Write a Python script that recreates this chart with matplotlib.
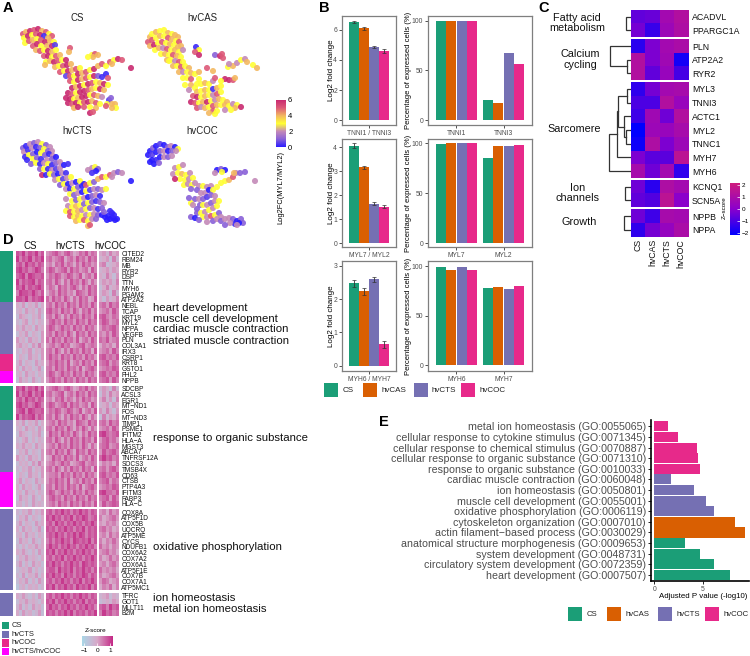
import numpy as np
import matplotlib
matplotlib.use("Agg")
import matplotlib.pyplot as plt
from matplotlib.colors import LinearSegmentedColormap, ListedColormap, Normalize
from matplotlib.cm import ScalarMappable
from matplotlib.patches import Rectangle

plt.rcParams["font.family"] = ["Liberation Sans", "DejaVu Sans"]

W, H = 750, 656
GROUPS = ["CS", "hvCAS", "hvCTS", "hvCOC"]
COLORS = ["#1b9e77", "#d95f02", "#7570b3", "#e7298a"]
MAGENTA = "#ff00ff"

# panel A, (umap1, umap2, log2fc)
CS_CELLS = [(23,34,5),(26,32,4),(30,31,6),(34,30,5),(38,29,6),(42,31,4),(46,32,5),(49,34,3),(52,36,5),(24,38,3),(28,36,6),(32,35,3),(36,34,5),(40,35,6),(44,36,0.3),(48,38,4),(25,43,3),(29,41,5),(33,40,4),(37,39,3),(41,40,5),(45,42,6),(50,41,4),(54,42,3),(33,46,5),(37,44,6),(41,46,3),(47,46,4),(52,46,6),(55,45,0.5),(70,48,5),(69,52,4),
    (36,50,4),(40,51,5),(44,50,3),(48,51,6),(52,52,4),(56,50,3),(44,56,5),(48,56,6),(52,57,3),(56,56,5),(60,55,4),(46,62,3),(50,61,4),(54,62,6),(58,61,5),(62,60,3),(66,60,6),(55,67,4),(59,66,3),(63,66,5),(67,65,6),(71,64,4),(45,65,4),(60,72,5),(64,71,3),(68,71,6),(72,70,4),(76,69,5),(80,68,3),(66,76,0.6),(70,76,5),(74,76,3),(78,74,6),(82,73,4),(86,72,5),(90,70,3),(94,69,6),(98,66,4),(102,64,5),(106,66,3),(110,62,5),(114,60,3),(118,59,6),(122,60,5),(112,64,4),(131,68,6),(92,55,3),(95,54,5),(98,55,4),(93,57,4),(88,57,3),
    (70,81,5),(74,82,3),(78,80,6),(82,79,4),(86,78,5),(90,77,3),(94,76,6),(98,76,1),(102,77,0.3),(106,74,0.2),(108,78,5),(72,88,6),(76,87,4),(80,86,6),(84,85,3),(88,84,6),(92,83,5),(96,82,3),(100,83,4),(104,84,6),(108,85,3),(68,93,6),(72,94,5),(76,93,3),(80,92,6),(84,91,6),(88,90,5),(92,89,4),(96,88,3),(100,89,6),(104,90,4),(66,98,6),(70,99,6),(74,99,3),(78,98,4),(82,97,6),(86,96,6),(90,95,3),(94,95,5),(98,96,4),(102,97,2),(68,103,6),(72,104,5),(76,103,6),(80,103,3),(84,102,5),(88,102,6),(92,101,4),(96,103,5),(100,104,3),(74,108,4),(78,107,6),(84,107,5),(90,107,3),(96,108,4),(90,113,6),(93,112,5),(109,100,0.5),(111,98,1),(107,104,3),(112,104,4),(115,104,4),(116,108,3),(112,108,4),(106,106,5)]
CAS_CELLS = [(23,42,5),(25,37,4),(27,34,3),(31,32,4),(35,31,3),(39,30,3),(43,33,4),(47,34,3),(50,35,4),(53,37,4),(27,40,5),(31,38,3),(35,36,4),(39,36,3),(43,38,5),(47,39,4),(51,41,3),(54,42,5),(25,46,4),(29,45,6),(33,43,3),(37,42,5),(41,43,3),(45,44,4),(49,45,3),(53,47,4),(56,46,4),(30,50,3),(34,48,4),(38,48,2),(42,49,5),(46,50,3),(50,50,4),(54,52,3),(58,50,2),(36,54,3),(40,54,4),(44,55,3),(48,55,5),(52,56,4),(56,57,3),(42,60,4),(46,60,3),(50,61,2),(54,62,5),(58,62,3),(48,66,4),(52,66,3),(56,67,5),(60,66,3),(64,68,4),(44,61,3),(54,72,4),(58,72,2),(62,72,3),(66,73,4),(58,78,3),(62,78,3),(66,79,5),(70,74,3),(74,72,4),(74,79,3),(72,84,3),(66,85,4),(70,88,3),(60,85,3),(64,90,2),
    (76,84,3),(80,83,4),(84,84,3),(88,81,2),(90,78,5),(72,92,4),(76,91,3),(80,90,4),(84,90,3),(88,89,0.3),(92,88,4),(96,86,3),(68,96,5),(72,97,6),(76,97,3),(80,96,4),(84,95,3),(88,95,2),(92,94,5),(96,92,3),(66,102,6),(70,103,5),(74,103,3),(78,102,4),(82,102,6),(86,101,3),(90,100,2),(94,99,4),(98,100,3),(102,102,4),(72,108,5),(76,107,2),(80,108,4),(84,107,3),(88,106,5),(92,105,4),(96,105,3),(100,105,4),(104,106,3),(108,104,2),(112,105,3),(116,107,6),(110,108,4),(106,110,3),(88,111,5),(92,111,3),(100,110,2),(84,113,4),(90,114,3),
    (71,47,0.2),(74,50,3),(70,52,5),(74,55,6),(90,55,1),(95,56,6),(97,54,5),(98,58,5),(103,67,3),(108,66,4),(112,63,2),(116,60,3),(120,59,2),(122,62,4),(104,64,2),(128,65,3),(132,68,4),(100,79,6),(104,80,6),(108,80,5),(110,78,4),(96,81,3),(88,71,4),(82,68,5)]
CTS_CELLS = [(23,35,1),(26,33,0.2),(30,31,2),(34,30,1),(38,29,2),(42,31,3),(46,32,1),(50,34,2),(24,39,2),(28,37,0.3),(32,35,2),(36,34,0.2),(40,35,1),(44,36,3),(48,38,1),(52,38,2),(25,44,0.3),(29,42,3),(33,41,1),(37,39,0),(41,40,3),(45,42,1),(49,41,0.2),(53,43,2),(27,47,0.2),(33,46,3),(37,45,1),(41,46,0.3),(47,47,2),(52,46,1),(56,44,0),(31,51,1),(36,50,3),(40,51,0.2),(44,50,2),(48,51,3),(52,52,0.2),(56,50,1),(60,49,2),(40,56,1),(44,56,3),(48,56,0.2),(52,57,2),(56,56,0.5),(60,55,2),(64,52,0),(68,51,0.3),(42,62,6),(46,62,0.2),(50,61,3),(54,62,1),(58,61,0),(62,60,2),(66,60,0.3),(55,67,2),(59,66,3),(63,66,0.5),(67,65,2),(71,64,3),(60,72,1),(64,71,3),(68,71,0),(72,70,2),(76,69,0),(80,68,3),(84,71,0),(66,76,2),(70,76,0.2),(74,76,3),(78,74,1),(82,73,0.1),(86,72,5),(90,70,3),(94,69,1),(98,66,4),(102,64,5),(106,64,3),(110,62,5),(114,60,2),(118,59,1),(122,60,2),(112,64,2),(131,68,0),(92,55,2),(95,54,3),(98,56,1),(96,58,0),(88,57,2),(92,60,0.3),
    (70,81,3),(74,82,1),(78,80,2),(82,79,0),(86,78,3),(90,77,0.5),(94,76,2),(98,76,1),(102,77,2),(106,76,3),(66,86,2),(72,88,3),(76,87,1),(80,86,3),(84,85,2),(88,84,0),(92,83,1),(96,82,2),(100,83,0.2),(68,93,2),(72,94,3),(76,93,4),(80,92,3),(84,91,1),(88,90,3),(92,89,1),(96,88,0.3),(100,89,1),(104,90,2),(66,98,3),(70,99,5),(74,99,3),(78,98,4),(82,97,2),(86,96,3),(90,95,1),(94,95,2),(98,96,0.3),(102,95,1),(70,103,5),(74,104,3),(78,103,4),(82,103,3),(86,102,2),(90,102,3),(94,101,2),(98,102,1),(76,108,4),(80,107,3),(84,107,5),(88,108,3),(92,106,2),(96,106,1),(88,113,4),(90,112,5),
    (102,102,0),(105,104,0),(108,103,0),(110,106,0),(113,105,0),(115,107,0),(117,106,0),(112,100,0),(110,98,0.2),(107,107,0),(114,102,0.1),(104,99,1)]
COC_CELLS = [(23,42,0),(25,38,0),(28,35,1),(31,33,0),(35,31,0.5),(39,32,0),(43,34,1),(46,33,2),(50,34,0),(53,36,3),(27,42,0.5),(31,39,0),(35,38,1),(39,38,2),(43,38,0),(47,38,1),(51,38,2),(27,47,0),(31,47,0.2),(35,44,0),(39,44,2),(43,44,1),(47,43,2),(25,49,0),(29,51,0),(34,50,1),
    (50,55,2),(54,54,3),(58,52,2),(48,61,2),(53,60,3),(57,61,4),(61,62,3),(65,60,2),(55,66,3),(60,67,3),(64,66,2),(68,65,3),(50,66,6),(59,72,3),(63,71,2),(67,72,3),(70,70,2),(74,73,2),(78,73,3),(82,74,2),(86,73,2),(66,76,1),(72,77,1),(76,80,2),(80,80,2),(84,77,0),(88,77,3),(92,74,3),(96,70,3),(100,68,3),(104,67,4),(108,64,5),(111,60,2),(115,60,1),(120,59,1),(109,60,4),(92,57,0),(96,56,1),(100,57,0),(90,60,2),(97,59,3),(130,68,2),(66,90,3),(75,92,1),
    (64,85,1),(70,86,1),(74,86,2),(78,86,1),(82,84,0.5),(86,82,1),(90,83,2),(68,92,2),(72,96,1),(78,92,3),(82,92,2),(86,90,1),(90,88,2),(94,88,3),(72,100,1),(76,100,3),(80,99,2),(84,97,3),(88,95,2),(92,93,3),(66,104,1),(78,104,3),(82,104,2),(86,103,5),(90,102,3),(94,100,1),(96,104,2),(70,105,0),(74,107,1),(82,109,2),(88,108,1),(92,106,2),(96,108,1),(100,106,2),(104,105,2),(108,106,1),(112,108,0),(116,106,1),(118,110,1),(114,110,0),(110,111,0.2),(105,110,2),(112,112,2),(100,112,1)]

# panel B
FC_LABELS = ["TNNI1 / TNNI3", "MYL7 / MYL2", "MYH6 / MYH7"]
FC_VALUES = [[6.55, 6.1, 4.85, 4.6], [4.07, 3.18, 1.66, 1.52], [2.48, 2.24, 2.6, 0.64]]
FC_ERRORS = [[0.07, 0.07, 0.07, 0.12], [0.1, 0.06, 0.05, 0.06], [0.11, 0.11, 0.07, 0.11]]
PCT_GENES = [["TNNI1", "TNNI3"], ["MYL7", "MYL2"], ["MYH6", "MYH7"]]
PCT_VALUES = [[[100, 100, 100, 99.5], [20, 17.5, 67.5, 57]],
              [[99.5, 100, 100, 100], [85, 97.5, 97.5, 98]],
              [[99.5, 96, 99, 96], [78, 79, 77, 80]]]

# panel C
C_TITLES = [["Fatty acid", "metabolism"], ["Calcium", "cycling"], ["Sarcomere"], ["Ion", "channels"], ["Growth"]]
C_GENES = [["ACADVL", "PPARGC1A"], ["PLN", "ATP2A2", "RYR2"],
           ["MYL3", "TNNI3", "ACTC1", "MYL2", "TNNC1", "MYH7", "MYH6"],
           ["KCNQ1", "SCN5A"], ["NPPB", "NPPA"]]
C_VALUES = [[[-0.6, -0.5, 0.7, 1.1], [-0.3, -1.2, 0.5, 1.0]],
            [[-1.4, -0.2, 0.7, 0.9], [1.1, -0.2, 0.6, -1.7], [1.1, -0.6, 0.4, -1.0]],
            [[-1.3, -0.3, 0.7, 0.8], [-0.9, -0.9, 1.1, 0.4], [-1.1, 0.6, -0.4, 1.1], [-2.0, 0.5, 0.4, 0.8],
             [-1.8, 1.0, -0.2, 0.5], [-0.2, -0.7, -0.7, 1.4], [0.8, -0.4, 0.7, -1.3]],
            [[-0.4, -1.4, 1.0, 0.7], [-0.6, -0.8, 1.4, 0.0]],
            [[-0.4, -1.1, 0.8, 0.7], [-1.3, -0.3, 0.3, 0.9]]]
# (height, left, right), an int is a row of the block
C_TREES = [(5.3, 0, 1), (21, 0, (4, 1, 2)),
           (22, 6, (13.7, 5, (13.4, (4.3, 0, 1), (6.7, 2, (5.3, 3, 4))))),
           (6, 0, 1), (7.3, 0, 1)]

# panel D, one digit per cell from 0 (low) to 9 (high), CS / hvCTS / hvCOC
D_GENES = [["CITED2", "RBM24", "MB", "RYR2", "DSP", "TTN", "MYH6", "PGAM2", "ATP2A2", "NEBL", "TCAP", "KRT19", "MYL2", "NPPA",
            "VEGFB", "PLN", "COL3A1", "IRX3", "CSRP1", "KRT8", "GSTO1", "FHL2", "NPPB"],
           ["SDCBP", "ACSL3", "EGR1", "MT\u2212ND1", "FOS", "MT\u2212ND3", "TIMP1", "PSME1", "IFITM2", "HLA\u2212A", "MGST3", "ABCA7",
            "TNFRSF12A", "SOCS3", "TMSB4X", "CD63", "CTSB", "PTP4A3", "IFITM3", "FABP3", "HLA\u2212C"],
           ["COX8A", "ATP5F1D", "COX5B", "UQCRQ", "ATP5ME", "CYCS", "NDUFB1", "COX6A2", "COX7A2", "COX6A1", "ATP5F1E", "COX7B",
            "COX7A1", "ATP5MC1"],
           ["TFRC", "GOT1", "MLLT11", "B2M"]]
D_SIDE = [[0]*9 + [1]*9 + [2]*3 + [3]*2, [0]*6 + [1]*9 + [3]*6, [1]*14, [1]*4]
D_CELLS = [
    ["879687968 56786578645768576 453645", "968796879 67567846758675867 345263", "786978687 56476857647586756 562345",
     "897867986 68756785867567486 345354", "789698778 57687568756846758 436425", "968789687 67586475867586475 354536",
     "879687897 57648675786475867 246345", "698879768 46758675648765867 354263", "887968789 75867586475867458 425346",
     "435243524 67586758675867586 675867", "342534253 78675867586476857 567586", "254324352 67586475867586758 786576",
     "324524243 57867586758675867 687567", "435342534 68756867586758675 576786", "243524325 67586758648675867 657586",
     "534253425 75867586758467586 768567", "453425364 56756867456785676 465647", "324352435 67586475867586748 567586",
     "243253425 68675867586758675 786768", "352432534 57686758467586758 678576", "425342352 67586758675846786 567687",
     "342534243 68756867586758675 786768", "253425324 57867586758675867 678586"],
    ["879687968 56786578645768576 354263", "968796879 67567846758675867 253645", "786978687 56476857647586756 463526",
     "897867986 68756785867567486 345254", "789698778 57687568756846758 536425", "968789687 67586475867586475 263546",
     "435243524 56758675648765867 675867", "342534253 67586758647586475 567586", "254324352 58675867586475867 897678",
     "324524243 67586475867586758 578675", "435342534 56758675867586475 678567", "243524325 67586758648675867 586786",
     "534253425 45867586758467586 797867", "243425364 56756867456785676 465647", "324352435 67586475867586748 675786",
     "243253425 56675867586758675 786768", "352432534 57686758467586758 678576", "425342352 67586758675846786 567687",
     "342534243 68756867586758675 897768", "253425324 57867586758675867 678586", "342425343 56758675867586758 586787"],
    ["324352435 78687978687978687 564756", "243524324 87978687968798678 645675", "352432534 78697868797868797 546564",
     "425342352 87868797868796878 675645", "342534243 78797868797986878 564756", "253425324 68687978698787968 646575",
     "324243534 79786879786879786 756465", "435324253 87968797868797868 567564", "243534324 78687968797868797 645756",
     "352425342 87978687978698787 564675", "234352423 78869787968797868 756564", "325243524 87978697868798687 645675",
     "243524253 78687978687968797 576456", "134243423 87968797869787968 465746"],
    ["435324253 78687978687978687 345243", "243534324 87968797868796878 234354",
     "352425342 79786879786879786 786978", "425342352 87868797968786879 697867"]]
D_TERMS = ["heart development", "muscle cell development", "cardiac muscle contraction", "striated muscle contraction",
           "response to organic substance", "oxidative phosphorylation", "ion homeostasis", "metal ion homeostasis"]
D_LEGEND = ["CS", "hvCTS", "hvCOC", "hvCTS/hvCOC"]

# panel E, top to bottom
E_TERMS = ["metal ion homeostasis (GO:0055065)", "cellular response to cytokine stimulus (GO:0071345)",
           "cellular response to chemical stimulus (GO:0070887)", "cellular response to organic substance (GO:0071310)",
           "response to organic substance (GO:0010033)", "cardiac muscle contraction (GO:0060048)",
           "ion homeostasis (GO:0050801)", "muscle cell development (GO:0055001)", "oxidative phosphorylation (GO:0006119)",
           "cytoskeleton organization (GO:0007010)", "actin filament\u2212based process (GO:0030029)",
           "anatomical structure morphogenesis (GO:0009653)", "system development (GO:0048731)",
           "circulatory system development (GO:0072359)", "heart development (GO:0007507)"]
E_VALUES = [1.45, 2.48, 4.38, 4.48, 4.72, 1.69, 4.14, 5.34, 6.2, 8.34, 9.41, 3.17, 4.76, 6.17, 7.79]
E_GROUP = [3]*5 + [2]*4 + [1]*2 + [0]*4

GREY = "#4d4d4d"
FRAME = "#7f7f7f"


def px_axes(fig, x0, y0, x1, y1, **kw):
    """Axes placed with pixel corners, y counted from the top."""
    return fig.add_axes([x0 / W, 1 - y1 / H, (x1 - x0) / W, (y1 - y0) / H], **kw)


def frame(ax):
    for s in ax.spines.values():
        s.set_color(FRAME)
        s.set_linewidth(0.9)
    ax.tick_params(length=2, width=0.6, color="#333333", labelcolor=GREY, pad=1.5, labelsize=4.9)


def plot_umaps(fig, canvas):
    cmap = LinearSegmentedColormap.from_list(
        "fc", [(0, "#2a1cff"), (1 / 6, "#8a62d8"), (2 / 6, "#c48ab8"), (3 / 6, "#ffff33"),
               (4 / 6, "#f3b860"), (5 / 6, "#dd5a78"), (1, "#c92a70")])
    cells = [CS_CELLS, CAS_CELLS, CTS_CELLS, COC_CELLS]
    for i, (name, pts) in enumerate(zip(GROUPS, cells)):
        dx, dy = (i % 2) * 125, (i // 2) * 113
        ax = px_axes(fig, dx + 10, dy + 22, dx + 145, dy + 122)
        ax.set_xlim(10, 145)
        ax.set_ylim(122, 22)
        ax.axis("off")
        pts = np.array(pts)
        ax.scatter(pts[:, 0], pts[:, 1], c=pts[:, 2], cmap=cmap, vmin=0, vmax=6, s=19, alpha=0.9, linewidths=0)
        canvas.text(dx + 77, dy + 18, name, ha="center", va="center", fontsize=6.9, color="#222222")
    cax = px_axes(fig, 276, 100, 286, 147)
    cb = fig.colorbar(ScalarMappable(Normalize(0, 6), cmap), cax=cax, ticks=[0, 2, 4, 6])
    cb.outline.set_visible(False)
    cb.ax.tick_params(length=0, labelsize=5.5, pad=1.5)
    canvas.text(281, 187, "Log2FC(MYL7/MYL2)", rotation=90, ha="center", va="center", fontsize=5.4)


def plot_bars(fig, canvas):
    rows = [(16, 125, (-0.33, 6.93), [0, 2, 4, 6], (-5, 105)),
            (139, 247, (-0.15, 4.35), [0, 1, 2, 3, 4], (-4, 104.5)),
            (261, 371, (-0.16, 3.15), [0, 1, 2, 3], (-5.7, 105.4))]
    for r, (top, bot, ylim, yticks, plim) in enumerate(rows):
        ax = px_axes(fig, 342, top, 396, bot)
        ax.bar(range(4), FC_VALUES[r], width=0.94, color=COLORS)
        ax.errorbar(range(4), FC_VALUES[r], yerr=FC_ERRORS[r], fmt="none", ecolor="#333333", elinewidth=0.6, capsize=1.2, capthick=0.5)
        ax.set_xlim(-1.2, 4.2)
        ax.set_ylim(*ylim)
        ax.set_xticks([1.5], [FC_LABELS[r]])
        ax.set_yticks(yticks)
        frame(ax)
        ax.set_ylabel("Log2 fold change", fontsize=5.8, labelpad=-1)

        ax = px_axes(fig, 428, top, 532, bot)
        for g in range(2):
            for k in range(4):
                ax.bar(g + (k - 1.5) * 0.222, PCT_VALUES[r][g][k], width=0.21, color=COLORS[k])
        ax.set_xlim(-0.6, 1.6)
        ax.set_ylim(*plim)
        ax.set_xticks([0, 1], PCT_GENES[r])
        ax.set_yticks([0, 50, 100])
        frame(ax)
        ax.set_ylabel("Percentage of expressed cells (%)", fontsize=5.5, labelpad=-0.3)

    for name, color, bx, tx in zip(GROUPS, COLORS, [324, 363, 414, 461], [343, 382, 432, 479]):
        canvas.add_patch(Rectangle((bx, 383), 14, 14, color=color, lw=0))
        canvas.text(tx, 390, name, va="center", fontsize=5.8, color="#222222")


def draw_tree(ax, node):
    if isinstance(node, int):
        return 0, node
    h, a, b = node
    ha, ya = draw_tree(ax, a)
    hb, yb = draw_tree(ax, b)
    ax.plot([ha, h, h, hb], [ya, ya, yb, yb], color="#333333", lw=0.9, solid_joinstyle="miter")
    return h, (ya + yb) / 2


def plot_scaled_heatmap(fig, canvas):
    cmap = LinearSegmentedColormap.from_list("z", ["#0000ff", "#8b00cc", "#d01c7c"])
    spans = [(10, 37.3), (39.3, 80), (82, 178), (180, 207.3), (209.3, 236.7)]
    title_y = [[18, 28], [54, 65], [129], [188, 198], [222]]
    title_x = [577, 580, 574, 578, 579]
    for i, (y0, y1) in enumerate(spans):
        n = len(C_GENES[i])
        ax = px_axes(fig, 631, y0, 688.3, y1)
        ax.imshow(np.array(C_VALUES[i]), cmap=cmap, vmin=-2, vmax=2, aspect="auto", interpolation="nearest")
        ax.set_xticks([])
        ax.yaxis.tick_right()
        ax.set_yticks(range(n), C_GENES[i])
        ax.tick_params(length=0, pad=2.5, labelsize=6.3, labelcolor="#111111")
        for s in ax.spines.values():
            s.set_visible(False)
        if i == len(spans) - 1:
            ax.xaxis.tick_bottom()
            ax.set_xticks(range(4), GROUPS, rotation=90)
            ax.tick_params(axis="x", length=0, pad=1.5, labelsize=6.3)

        tree = px_axes(fig, 605, y0, 631, y1)
        tree.set_xlim(26, 0)
        tree.set_ylim(n - 0.5, -0.5)
        tree.axis("off")
        draw_tree(tree, C_TREES[i])

        for line, ty in zip(C_TITLES[i], title_y[i]):
            canvas.text(title_x[i], ty, line, ha="center", va="center", fontsize=7.8, color="#111111")

    cax = px_axes(fig, 730, 182.7, 740, 235)
    cb = fig.colorbar(ScalarMappable(Normalize(-2.2, 2.2), cmap), cax=cax, ticks=[-2, -1, 0, 1, 2])
    cb.outline.set_visible(False)
    cb.ax.set_yticklabels(["\u22122", "\u22121", "0", "1", "2"])
    cb.ax.tick_params(length=2, width=0.5, color="white", direction="in", labelsize=4.6, pad=1)
    canvas.text(724, 208, "Z\u2212score", rotation=90, ha="center", va="center", fontsize=4.5)


def plot_gene_heatmap(fig, canvas):
    cmap = LinearSegmentedColormap.from_list("z2", ["#a8d8e8", "#d8a8c8", "#c42a86"])
    side_cmap = ListedColormap([COLORS[0], COLORS[2], COLORS[3], MAGENTA])
    spans = [(251, 383), (385.7, 506.7), (509.3, 590.3), (592.7, 615.7)]
    cols = [(16, 43.7), (46, 97), (99.3, 118.7)]
    for b, (y0, y1) in enumerate(spans):
        side = px_axes(fig, 0, y0, 13, y1)
        side.imshow(np.array(D_SIDE[b])[:, None], cmap=side_cmap, vmin=0, vmax=3, aspect="auto", interpolation="nearest")
        side.axis("off")
        parts = [r.split() for r in D_CELLS[b]]
        for c, (x0, x1) in enumerate(cols):
            ax = px_axes(fig, x0, y0, x1, y1)
            grid = np.array([[int(d) for d in p[c]] for p in parts])
            # digits are a compact scale, map them back to z-scores
            ax.imshow((grid - 4.5) / 4.5 * 1.2, cmap=cmap, vmin=-1.5, vmax=1.4, aspect="auto", interpolation="nearest")
            for s in ax.spines.values():
                s.set_visible(False)
            ax.set_xticks([])
            ax.set_yticks([])
            if c == 2:
                ax.yaxis.tick_right()
                ax.set_yticks(range(len(D_GENES[b])), D_GENES[b])
                ax.tick_params(length=0, pad=2, labelsize=4.7, labelcolor="#111111")

    for name, tx in zip(["CS", "hvCTS", "hvCOC"], [30, 70, 110]):
        canvas.text(tx, 246, name, ha="center", va="center", fontsize=7, color="#111111")
    for term, ty in zip(D_TERMS, [308, 318.7, 329.5, 340.5, 438, 547, 598, 609]):
        canvas.text(153, ty, term, va="center", fontsize=8.2, color="#111111")
    for k, (name, ty) in enumerate(zip(D_LEGEND, [625.5, 634.5, 643, 651.5])):
        canvas.add_patch(Rectangle((2, ty - 3.6), 7.3, 7.2, color=side_cmap(k), lw=0))
        canvas.text(12, ty, name, va="center", fontsize=5.4, color="#222222")

    cax = px_axes(fig, 81.7, 635.7, 112.7, 646)
    cb = fig.colorbar(ScalarMappable(Normalize(-1.2, 1.2), cmap), cax=cax, orientation="horizontal", ticks=[-1, 0, 1])
    cb.outline.set_visible(False)
    cb.ax.set_xticklabels(["\u22121", "0", "1"])
    cb.ax.tick_params(length=2, width=0.5, color="white", direction="in", labelsize=4.6, pad=1.5)
    canvas.text(96, 631, "Z-score", ha="center", va="center", fontsize=4.6)


def plot_enrichment(fig, canvas):
    ax = px_axes(fig, 650.7, 420, 749, 581.3)
    ax.barh(range(15), E_VALUES, height=0.95, color=[COLORS[g] for g in E_GROUP])
    ax.set_xlim(-0.37, 9.79)
    ax.set_ylim(14.6, -0.6)
    ax.set_yticks(range(15), E_TERMS)
    ax.set_xticks([0, 5])
    ax.spines[["top", "right"]].set_visible(False)
    ax.spines[["left", "bottom"]].set_linewidth(1.2)
    ax.tick_params(axis="y", length=2, width=0.6, pad=1.5, labelsize=7.65, labelcolor=GREY)
    ax.tick_params(axis="x", length=2, width=0.6, pad=1.5, labelsize=4.9, labelcolor=GREY)
    canvas.text(703, 597, "Adjusted P value (-log10)", ha="center", va="center", fontsize=5.7)
    for name, color, bx, tx in zip(GROUPS, COLORS, [568, 607, 657.7, 704.7], [586.7, 625.7, 676.7, 723.3]):
        canvas.add_patch(Rectangle((bx, 607), 14, 14, color=color, lw=0))
        canvas.text(tx, 614, name, va="center", fontsize=5.6, color="#222222")


if __name__ == "__main__":
    fig = plt.figure(figsize=(7.5, 6.56), dpi=100)
    canvas = fig.add_axes([0, 0, 1, 1], zorder=5)
    canvas.set_xlim(0, W)
    canvas.set_ylim(H, 0)
    canvas.axis("off")
    canvas.patch.set_alpha(0)

    plot_umaps(fig, canvas)
    plot_bars(fig, canvas)
    plot_scaled_heatmap(fig, canvas)
    plot_gene_heatmap(fig, canvas)
    plot_enrichment(fig, canvas)

    for letter, lx, ly in [("A", 8, 8), ("B", 324, 8), ("C", 544, 8), ("D", 8, 240), ("E", 384, 422)]:
        canvas.text(lx, ly, letter, ha="center", va="center", fontsize=10.5, fontweight="bold")

    fig.savefig("out.png", dpi=100)
